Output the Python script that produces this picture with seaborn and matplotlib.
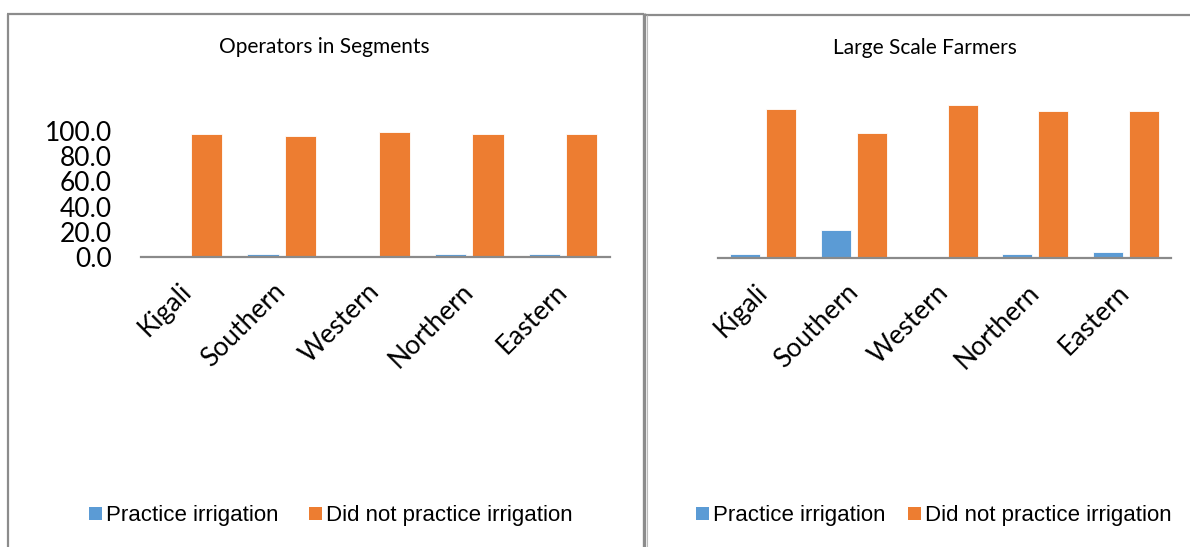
import matplotlib
matplotlib.use("Agg")
import matplotlib.pyplot as plt
from matplotlib.lines import Line2D
from matplotlib.patches import Patch
from matplotlib.ticker import FormatStrFormatter
import pandas as pd
import seaborn as sns

# Share of respondents (%) by province
regions = ["Kigali", "Southern", "Western", "Northern", "Eastern"]
series = ["Practice irrigation", "Did not practice irrigation"]

operators_irrigated = [0.0, 2.0, 0.0, 2.1, 2.1]
operators_not_irrigated = [98.0, 96.3, 99.6, 98.0, 98.0]

farmers_irrigated = [2.8, 18.5, 0.0, 2.8, 4.1]
farmers_not_irrigated = [97.4, 81.5, 99.8, 96.1, 96.1]

y_ticks = [0, 20, 40, 60, 80, 100]

colors = ["#5B9BD5", "#ED7D31"]
label_font = ["Lato", "DejaVu Sans"]
legend_font = ["Liberation Sans", "DejaVu Sans"]


def long_table(irrigated, not_irrigated):
    rows = []
    for reg, a, b in zip(regions, irrigated, not_irrigated):
        rows.append({"Region": reg, "Irrigation": series[0], "Percent": a})
        rows.append({"Region": reg, "Irrigation": series[1], "Percent": b})
    return pd.DataFrame(rows)


sns.set_theme(style="white")
plt.rcParams["font.family"] = label_font
plt.rcParams["text.color"] = "black"
plt.rcParams["xtick.color"] = "black"
plt.rcParams["ytick.color"] = "black"

W, H = 1190, 547
fig = plt.figure(figsize=(W / 100, H / 100), dpi=100)


def px_axes(x0, x1, ytop, ybot):
    return fig.add_axes([x0 / W, 1 - ybot / H, (x1 - x0) / W, (ybot - ytop) / H])


ax1 = px_axes(141, 610, 131, 257)
ax2 = px_axes(718, 1171, 105, 258)

panels = [
    (ax1, long_table(operators_irrigated, operators_not_irrigated), True),
    (ax2, long_table(farmers_irrigated, farmers_not_irrigated), False),
]

for ax, df, show_y in panels:
    sns.barplot(data=df, x="Region", y="Percent", hue="Irrigation",
                hue_order=series, order=regions, palette=colors,
                saturation=1, width=0.8, gap=0.17, ax=ax, legend=False,
                edgecolor="white", linewidth=0.6)
    ax.set_xlim(-0.5, len(regions) - 0.5)
    ax.set_ylim(0, 100)
    ax.set_xlabel("")
    ax.set_ylabel("")
    for side in ["top", "right", "left"]:
        ax.spines[side].set_visible(False)
    ax.spines["bottom"].set_color("#8a8a8a")
    ax.spines["bottom"].set_linewidth(1.6)
    ax.tick_params(axis="x", length=0, pad=22, labelsize=19, labelcolor="black")
    for lab in ax.get_xticklabels():
        lab.set_rotation(45)
        lab.set_ha("right")
        lab.set_va("center")
        lab.set_rotation_mode("anchor")
    if show_y:
        ax.set_yticks(y_ticks)
        ax.yaxis.set_major_formatter(FormatStrFormatter("%.1f"))
        ax.tick_params(axis="y", length=0, pad=21, labelsize=19, labelcolor="black")
    else:
        ax.set_yticks([])

fig.text(324 / W, 1 - 47 / H, "Operators in Segments", ha="center", va="center",
         fontsize=15, color="black")
fig.text(925 / W, 1 - 48 / H, "Large Scale Farmers", ha="center", va="center",
         fontsize=15, color="black")

handles = [Patch(facecolor=c, edgecolor="none") for c in colors]
for x_left, spacing in ((89, 1.38), (696, 1.02)):
    fig.legend(handles, series, loc="center left",
               bbox_to_anchor=(x_left / W, 1 - 516 / H), ncol=2, frameon=False,
               borderaxespad=0, borderpad=0, handlelength=0.57, handleheight=0.57,
               handletextpad=0.2, columnspacing=spacing,
               prop={"family": legend_font, "size": 16})

# Chart frames
border = "#8c8c8c"
def fig_line(xs, ys, lw, color=border):
    fig.add_artist(Line2D([x / W for x in xs], [1 - y / H for y in ys],
                          color=color, linewidth=lw, solid_capstyle="butt"))

fig_line([7.5, 7.5], [14, 547], 1.6)
fig_line([7, 644], [14, 14], 1.6)
fig_line([643.5, 643.5], [13, 547], 2.4)
fig_line([645, 1190], [15, 15], 1.6)
fig_line([646.5, 646.5], [15, 547], 0.8, "#bdbdbd")

fig.savefig("out.png", dpi=100)
